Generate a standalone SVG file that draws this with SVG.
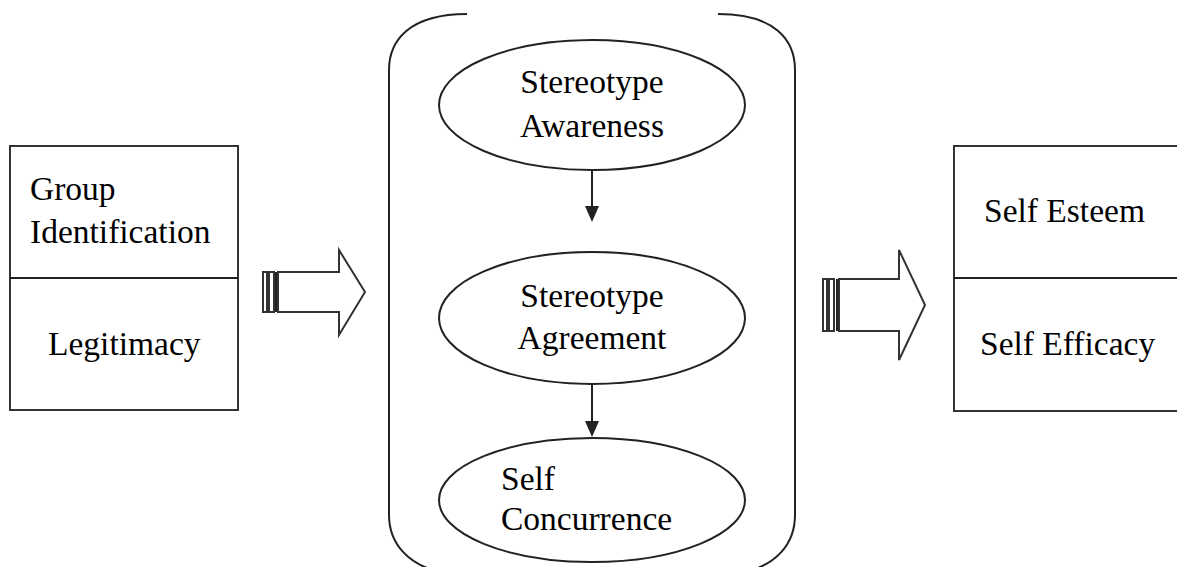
<svg xmlns="http://www.w3.org/2000/svg" width="1177" height="567" viewBox="0 0 1177 567">
<style>
.ln{fill:none;stroke:#222;stroke-width:2}
.bx{fill:#fff;stroke:#333;stroke-width:2}
.t{font-family:"Liberation Serif","Times New Roman",serif;font-size:33.5px;fill:#000}
.c{text-anchor:middle}
</style>
<rect width="1177" height="567" fill="#fff"/>
<g id="left-box">
<rect class="bx" x="10" y="146" width="228" height="264"/>
<line class="ln" x1="10" y1="278" x2="238" y2="278"/>
<text class="t" x="30" y="200">Group</text>
<text class="t" x="30" y="243">Identification</text>
<text class="t" x="48" y="355">Legitimacy</text>
</g>
<g id="right-box">
<rect class="bx" x="954" y="146" width="230" height="265"/>
<line class="ln" x1="954" y1="278" x2="1177" y2="278"/>
<text class="t" x="984" y="222">Self Esteem</text>
<text class="t" x="980" y="355">Self Efficacy</text>
</g>
<g id="container">
<path class="ln" d="M467,14 C410,14 389,40 389,70 L389,515 C389,545 410,565 440,572"/>
<path class="ln" d="M718,14 C775,14 795,40 795,70 L795,515 C795,545 775,565 745,572"/>
</g>
<g id="awareness">
<ellipse class="ln" cx="592" cy="105" rx="153" ry="65"/>
<text class="t c" x="592" y="93">Stereotype</text>
<text class="t c" x="592" y="137">Awareness</text>
</g>
<g id="agreement">
<ellipse class="ln" cx="592" cy="318" rx="153" ry="66"/>
<text class="t c" x="592" y="307">Stereotype</text>
<text class="t c" x="592" y="349">Agreement</text>
</g>
<g id="concurrence">
<ellipse class="ln" cx="592" cy="500" rx="153" ry="62"/>
<text class="t" x="501" y="490">Self</text>
<text class="t" x="501" y="530">Concurrence</text>
</g>
<g id="connectors">
<line class="ln" x1="592" y1="170" x2="592" y2="206"/>
<path d="M585,206 L599,206 L592,222 Z" fill="#222"/>
<line class="ln" x1="592" y1="385" x2="592" y2="421"/>
<path d="M585,421 L599,421 L592,437 Z" fill="#222"/>
<g id="arrow-left">
<path class="bx" d="M278,272 L339,272 L339,250 L365,292 L339,335 L339,312 L278,312 Z"/>
<rect class="bx" x="263" y="272" width="4" height="40"/>
<rect class="bx" x="269" y="272" width="5" height="40"/>
<line class="ln" x1="276" y1="272" x2="276" y2="312"/>
</g>
<g id="arrow-right">
<path class="bx" d="M839,279 L899,279 L899,250 L925,305 L899,360 L899,331 L839,331 Z"/>
<rect class="bx" x="823" y="279" width="4" height="52"/>
<rect class="bx" x="829" y="279" width="5" height="52"/>
<line class="ln" x1="837" y1="279" x2="837" y2="331"/>
</g>
</g>
</svg>
